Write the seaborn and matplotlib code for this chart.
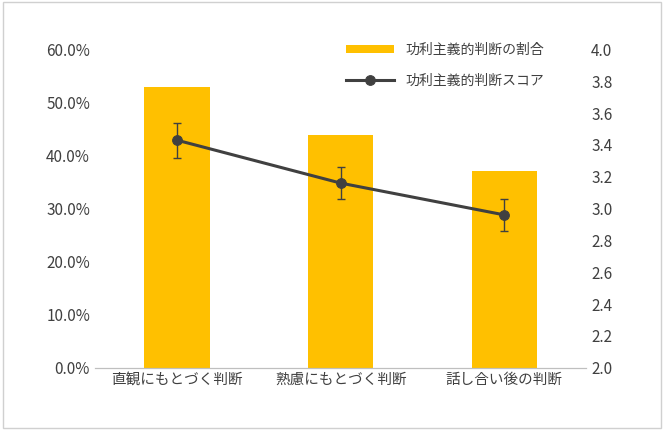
import numpy as np
import pandas as pd
import seaborn as sns
import matplotlib.pyplot as plt
from matplotlib.ticker import FuncFormatter

plt.rcParams['font.family'] = ['Noto Sans CJK JP']

categories = ['直観にもとづく判断', '熟慮にもとづく判断', '話し合い後の判断']
ratio = [53.0, 43.8, 37.0]
score = [3.43, 3.16, 2.96]
score_err = [0.11, 0.10, 0.10]

df = pd.DataFrame({'cat': categories, 'ratio': ratio, 'score': score})

fig = plt.figure(figsize=(6.64, 4.30), dpi=100)
fig.patches.append(plt.Rectangle((0.005, 0.005), 0.99, 0.99, transform=fig.transFigure,
                                 fill=False, edgecolor='#d0d0d0', lw=1))
ax = fig.add_axes([0.143, 0.145, 0.74, 0.74])
sns.barplot(data=df, x='cat', y='ratio', color='#FFC000', width=0.4, ax=ax,
            saturation=1, label='功利主義的判断の割合')
ax.set_ylim(0, 60)
ax.set_yticks(np.arange(0, 61, 10))
ax.yaxis.set_major_formatter(FuncFormatter(lambda v, p: f'{v:.1f}%'))
ax.set_xlabel('')
ax.set_ylabel('')

ax2 = ax.twinx()
x = np.arange(len(categories))
ax2.errorbar(x, score, yerr=score_err, fmt='none', ecolor='#404040', elinewidth=1, capsize=3)
sns.lineplot(x=x, y=score, ax=ax2, color='#404040', lw=2.2, marker='o', markersize=7,
             markeredgecolor='#404040', label='功利主義的判断スコア')
ax2.set_ylim(2.0, 4.0)
ax2.set_yticks(np.arange(2.0, 4.01, 0.2))
ax2.yaxis.set_major_formatter(FuncFormatter(lambda v, p: f'{v:.1f}'))
ax.set_xlim(-0.5, 2.5)

for a in (ax, ax2):
    for s in ['top', 'left', 'right']:
        a.spines[s].set_visible(False)
    a.spines['bottom'].set_color('#bfbfbf')
    a.tick_params(length=0, labelsize=11, colors='#404040')
ax.tick_params(axis='x', labelsize=10.5)

h1, l1 = ax.get_legend_handles_labels()
h2, l2 = ax2.get_legend_handles_labels()
ax.get_legend() and ax.get_legend().remove()
ax2.get_legend() and ax2.get_legend().remove()
ax2.legend(h1 + h2, l1 + l2, loc='upper right', bbox_to_anchor=(0.94, 1.06), frameon=False,
           fontsize=10, labelspacing=1.2, handlelength=3.5, handleheight=0.6,
           labelcolor='#404040')

fig.savefig('out.png', dpi=100)
